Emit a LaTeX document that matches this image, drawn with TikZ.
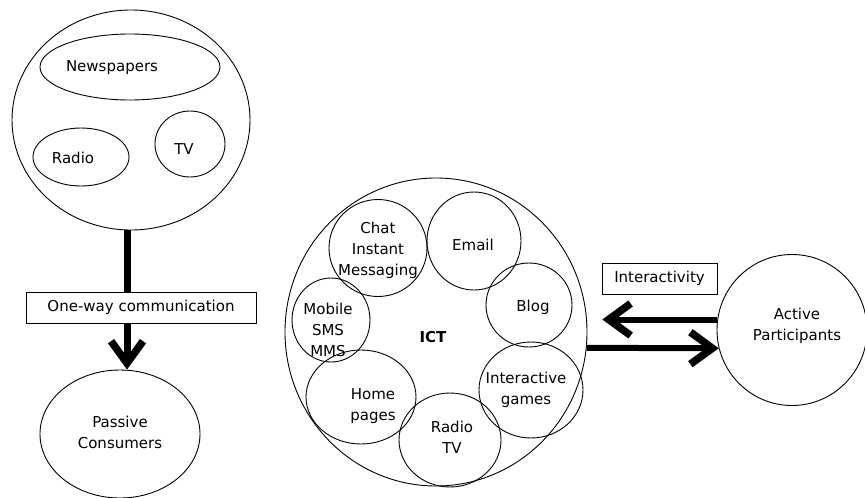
\documentclass[tikz,border=0pt]{standalone}
\usepackage{fontspec}
\setmainfont{DejaVu Sans}
\usetikzlibrary{shapes.geometric,arrows.meta}
\begin{document}
\begin{tikzpicture}[x=1pt,y=-1pt,
  font=\fontsize{15}{21}\selectfont,
  oval/.style={ellipse,draw,line width=0.9pt,inner sep=0pt,align=center},
  txt/.style={inner sep=0pt,align=center},
  tag/.style={draw,line width=0.9pt,inner sep=0pt,minimum height=31pt},
  barb/.style={-{Straight Barb[length=22pt,width=32pt,line width=7.5pt]}},
  flow/.style={line width=6pt,barb},
]
\useasboundingbox (0,0) rectangle (865,498);

% traditional mass media
\node[oval,minimum width=238pt,minimum height=220pt] (media) at (131,120) {};
\node[oval,minimum width=180pt,minimum height=66pt] (news) at (130,67) {};
\node[txt] (newstext) at (112,68) {Newspapers};
\node[oval,minimum width=96pt,minimum height=58pt] (radio) at (81,157) {};
\node[txt] (radiotext) at (73,158) {Radio};
\node[oval,minimum width=70pt,minimum height=66pt] (tv) at (190,144) {};
\node[txt] (tvtext) at (184,149) {TV};

\node[tag,minimum width=230pt] (oneway) at (141,307.5) {One-way communication};
\node[oval,minimum width=160pt,minimum height=128pt] (passive) at (120,434) {};
\node[txt] (passivetext) at (120,432) {Passive\\Consumers};

\draw[line width=7pt] (media.south) ++(-4,0) coordinate (mediafoot) -- (mediafoot |- oneway.north);
\draw[line width=7pt,barb] (mediafoot |- oneway.south) -- (mediafoot |- passive.north);

% ICT and its services
\node[oval,minimum width=302pt,minimum height=308pt] (ict) at (436,332) {};
\node[txt,font=\fontsize{15}{21}\selectfont\bfseries] (ictlabel) at (433,337) {ICT};

\node[oval,minimum width=98pt,minimum height=97pt] (chat) at (378,248) {};
\node[txt] (chattext) at (378,250) {Chat\\Instant\\Messaging};
\node[oval,minimum width=94pt,minimum height=98pt] (email) at (474,241) {};
\node[txt] (emailtext) at (473,245) {Email};
\node[oval,minimum width=86pt,minimum height=84pt] (blog) at (529,305) {};
\node[txt] (blogtext) at (533,307) {Blog};
\node[oval,minimum width=78pt,minimum height=84pt] (mobile) at (331,320) {};
\node[txt] (mobiletext) at (328,330) {Mobile\\SMS\\MMS};
\node[oval,minimum width=104pt,minimum height=96pt] (games) at (531,390) {};
\node[txt] (gamestext) at (526,390) {Interactive\\games};
\node[oval,minimum width=110pt,minimum height=94pt] (home) at (361,397) {};
\node[txt] (hometext) at (373,406) {Home\\pages};
\node[oval,minimum width=102pt,minimum height=94pt] (radiotv) at (450,440) {};
\node[txt] (radiotvtext) at (452,437) {Radio\\TV};

% participants and the two-way link
\node[oval,minimum width=150pt,minimum height=151pt] (active) at (792,330) {};
\node[txt] (activetext) at (797,325.5) {Active\\Participants};
\node[tag,minimum width=115pt] (interact) at (659.5,278.5) {Interactivity};

\path (active.172) ++(-115,0) coordinate (backtip);
\draw[flow] (active.172) -- (backtip);
\draw[flow] (ict.-6) -- (active.194);
\end{tikzpicture}
\end{document}
